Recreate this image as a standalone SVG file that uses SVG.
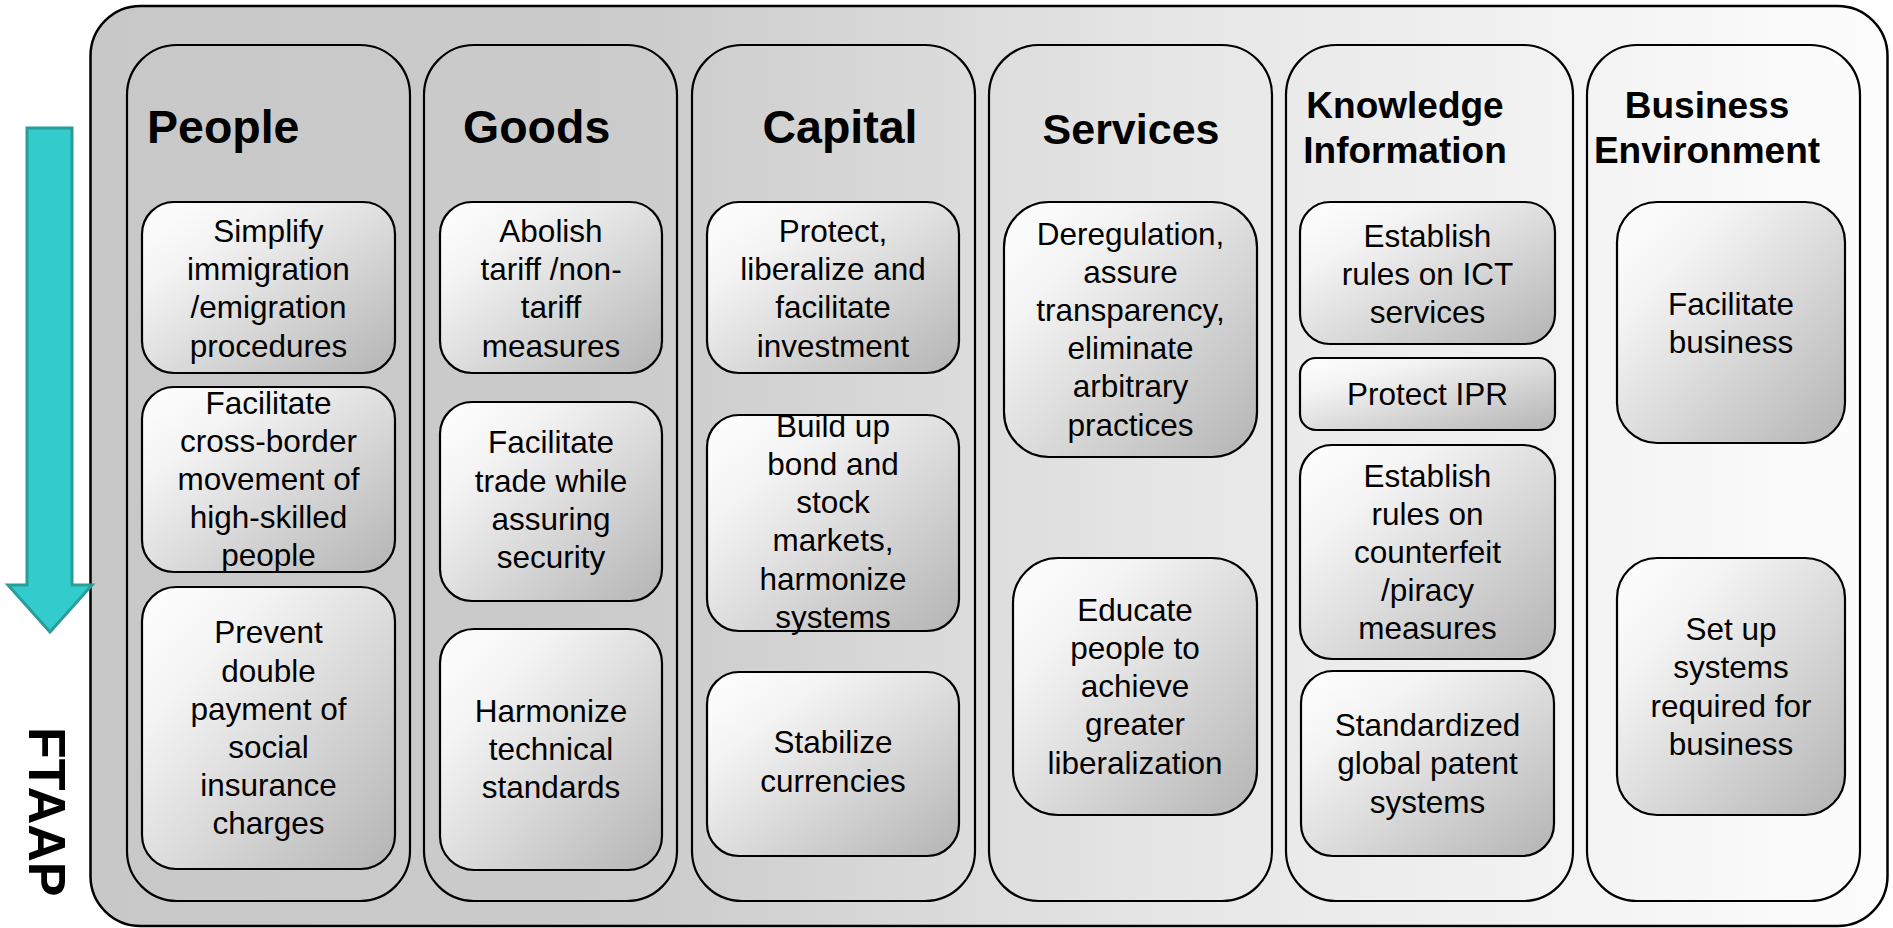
<svg xmlns="http://www.w3.org/2000/svg" width="1893" height="928" viewBox="0 0 1893 928">
<defs>
<linearGradient id="bg" x1="0" y1="0" x2="1" y2="0">
<stop offset="0" stop-color="#c8c8c8"/>
<stop offset="0.3" stop-color="#cbcbcb"/>
<stop offset="0.6" stop-color="#e6e6e6"/>
<stop offset="1" stop-color="#fdfdfd"/>
</linearGradient>
<linearGradient id="boxg" x1="0" y1="0" x2="1" y2="1">
<stop offset="0" stop-color="#ffffff"/>
<stop offset="0.25" stop-color="#f4f4f4"/>
<stop offset="1" stop-color="#b4b4b4"/>
</linearGradient>
<style>
.outer{fill:url(#bg);stroke:#000;stroke-width:2.5}
.col{fill:none;stroke:#000;stroke-width:2.2}
.box{fill:url(#boxg);stroke:#000;stroke-width:2.2}
.t{font-family:"Liberation Sans",Arial,sans-serif;font-size:31.5px;fill:#000;text-anchor:middle}
.h{font-family:"Liberation Sans",Arial,sans-serif;font-weight:bold;fill:#000}
</style>
</defs>

<rect id="frame" class="outer" x="90.5" y="6" width="1797" height="920" rx="50" ry="50"/>

<g id="arrow">
<polygon points="27,128 72,128 72,585 92,585 50,632 8,585 27,585" fill="#33cccc" stroke="#2a9d9a" stroke-width="3"/>
</g>
<text id="ftaap" class="h" font-size="52" transform="translate(29,727) rotate(90)">FTAAP</text>

<g id="connectors"/>

<g id="col-people">
<rect class="col" x="127" y="45" width="283" height="856" rx="50" ry="50"/>
<text class="h" font-size="46.5" x="147" y="143">People</text>
<g id="people-1"><rect class="box" x="142" y="202" width="253" height="171" rx="32"/>
<text class="t"><tspan x="268.5" y="241.7">Simplify</tspan><tspan x="268.5" dy="38.3">immigration</tspan><tspan x="268.5" dy="38.3">/emigration</tspan><tspan x="268.5" dy="38.3">procedures</tspan></text></g>
<g id="people-2"><rect class="box" x="142" y="387" width="253" height="185" rx="32"/>
<text class="t"><tspan x="268.5" y="414.3">Facilitate</tspan><tspan x="268.5" dy="38">cross-border</tspan><tspan x="268.5" dy="38">movement of</tspan><tspan x="268.5" dy="38">high-skilled</tspan><tspan x="268.5" dy="38">people</tspan></text></g>
<g id="people-3"><rect class="box" x="142" y="587" width="253" height="282" rx="34"/>
<text class="t"><tspan x="268.5" y="643.3">Prevent</tspan><tspan x="268.5" dy="38.2">double</tspan><tspan x="268.5" dy="38.2">payment of</tspan><tspan x="268.5" dy="38.2">social</tspan><tspan x="268.5" dy="38.2">insurance</tspan><tspan x="268.5" dy="38.2">charges</tspan></text></g>
</g>

<g id="col-goods">
<rect class="col" x="424" y="45" width="253" height="856" rx="50" ry="50"/>
<text class="h" font-size="46.5" x="463" y="143">Goods</text>
<g id="goods-1"><rect class="box" x="440" y="202" width="222" height="171" rx="32"/>
<text class="t"><tspan x="551" y="241.7">Abolish</tspan><tspan x="551" dy="38.3">tariff /non-</tspan><tspan x="551" dy="38.3">tariff</tspan><tspan x="551" dy="38.3">measures</tspan></text></g>
<g id="goods-2"><rect class="box" x="440" y="402" width="222" height="199" rx="32"/>
<text class="t"><tspan x="551" y="453.3">Facilitate</tspan><tspan x="551" dy="38.3">trade while</tspan><tspan x="551" dy="38.3">assuring</tspan><tspan x="551" dy="38.3">security</tspan></text></g>
<g id="goods-3"><rect class="box" x="440" y="629" width="222" height="241" rx="34"/>
<text class="t"><tspan x="551" y="721.7">Harmonize</tspan><tspan x="551" dy="38.3">technical</tspan><tspan x="551" dy="38.3">standards</tspan></text></g>
</g>

<g id="col-capital">
<rect class="col" x="692" y="45" width="283" height="856" rx="50" ry="50"/>
<text class="h" font-size="46.5" x="840" y="143" text-anchor="middle">Capital</text>
<g id="capital-1"><rect class="box" x="707" y="202" width="252" height="171" rx="32"/>
<text class="t"><tspan x="833" y="241.7">Protect,</tspan><tspan x="833" dy="38.3">liberalize and</tspan><tspan x="833" dy="38.3">facilitate</tspan><tspan x="833" dy="38.3">investment</tspan></text></g>
<g id="capital-2"><rect class="box" x="707" y="415" width="252" height="216" rx="32"/>
<text class="t"><tspan x="833" y="436.7">Build up</tspan><tspan x="833" dy="38.2">bond and</tspan><tspan x="833" dy="38.2">stock</tspan><tspan x="833" dy="38.2">markets,</tspan><tspan x="833" dy="38.2">harmonize</tspan><tspan x="833" dy="38.2">systems</tspan></text></g>
<g id="capital-3"><rect class="box" x="707" y="672" width="252" height="184" rx="32"/>
<text class="t"><tspan x="833" y="753.3">Stabilize</tspan><tspan x="833" dy="38.3">currencies</tspan></text></g>
</g>

<g id="col-services">
<rect class="col" x="989" y="45" width="283" height="856" rx="50" ry="50"/>
<text class="h" font-size="43" x="1131" y="143.5" text-anchor="middle">Services</text>
<g id="services-1"><rect class="box" x="1004" y="202" width="253" height="255" rx="45"/>
<text class="t"><tspan x="1130.5" y="245">Deregulation,</tspan><tspan x="1130.5" dy="38.1">assure</tspan><tspan x="1130.5" dy="38.1">transparency,</tspan><tspan x="1130.5" dy="38.1">eliminate</tspan><tspan x="1130.5" dy="38.1">arbitrary</tspan><tspan x="1130.5" dy="38.1">practices</tspan></text></g>
<g id="services-2"><rect class="box" x="1013" y="558" width="244" height="257" rx="45"/>
<text class="t"><tspan x="1135" y="620.7">Educate</tspan><tspan x="1135" dy="38.2">people to</tspan><tspan x="1135" dy="38.2">achieve</tspan><tspan x="1135" dy="38.2">greater</tspan><tspan x="1135" dy="38.2">liberalization</tspan></text></g>
</g>

<g id="col-knowledge">
<rect class="col" x="1286" y="45" width="287" height="856" rx="50" ry="50"/>
<text class="h" font-size="37" text-anchor="middle"><tspan x="1405" y="118">Knowledge</tspan><tspan x="1405" y="163">Information</tspan></text>
<g id="knowledge-1"><rect class="box" x="1300" y="202" width="255" height="142" rx="30"/>
<text class="t"><tspan x="1427.5" y="246.7">Establish</tspan><tspan x="1427.5" dy="38.2">rules on ICT</tspan><tspan x="1427.5" dy="38.2">services</tspan></text></g>
<g id="knowledge-2"><rect class="box" x="1300" y="358" width="255" height="72" rx="16"/>
<text class="t" x="1427.5" y="405">Protect IPR</text></g>
<g id="knowledge-3"><rect class="box" x="1300" y="445" width="255" height="214" rx="32"/>
<text class="t"><tspan x="1427.5" y="486.7">Establish</tspan><tspan x="1427.5" dy="38.1">rules on</tspan><tspan x="1427.5" dy="38.1">counterfeit</tspan><tspan x="1427.5" dy="38.1">/piracy</tspan><tspan x="1427.5" dy="38.1">measures</tspan></text></g>
<g id="knowledge-4"><rect class="box" x="1301" y="671" width="253" height="185" rx="32"/>
<text class="t"><tspan x="1427.5" y="736">Standardized</tspan><tspan x="1427.5" dy="38.3">global patent</tspan><tspan x="1427.5" dy="38.3">systems</tspan></text></g>
</g>

<g id="col-business">
<rect class="col" x="1587" y="45" width="273" height="856" rx="50" ry="50"/>
<text class="h" font-size="37" text-anchor="middle"><tspan x="1707" y="118">Business</tspan><tspan x="1707" y="163">Environment</tspan></text>
<g id="business-1"><rect class="box" x="1617" y="202" width="228" height="241" rx="40"/>
<text class="t"><tspan x="1731" y="315">Facilitate</tspan><tspan x="1731" dy="38">business</tspan></text></g>
<g id="business-2"><rect class="box" x="1617" y="558" width="228" height="257" rx="40"/>
<text class="t"><tspan x="1731" y="640">Set up</tspan><tspan x="1731" dy="38.3">systems</tspan><tspan x="1731" dy="38.3">required for</tspan><tspan x="1731" dy="38.3">business</tspan></text></g>
</g>
</svg>
